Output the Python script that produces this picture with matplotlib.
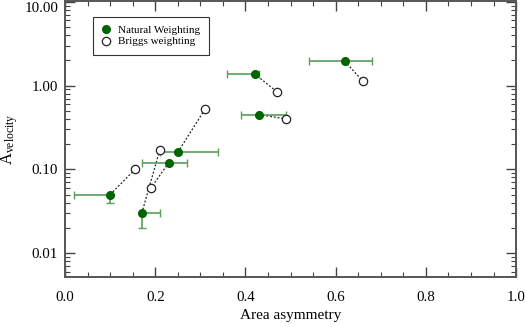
import matplotlib
matplotlib.use("Agg")
import matplotlib.pyplot as plt
from matplotlib.ticker import FixedLocator, LogLocator, NullFormatter, MultipleLocator, FormatStrFormatter
import numpy as np

plt.rcParams['font.family'] = ['Liberation Serif', 'DejaVu Serif']
plt.rcParams['mathtext.fontset'] = 'custom'
plt.rcParams['mathtext.rm'] = 'Liberation Serif'
plt.rcParams['mathtext.it'] = 'Liberation Serif'

# Natural weighting
nat_x = [0.62, 0.42, 0.43, 0.25, 0.23, 0.10, 0.17]
nat_y = [1.95, 1.38, 0.45, 0.16, 0.12, 0.05, 0.03]
nat_xerr_lo = [0.08, 0.06, 0.04, 0.04, 0.06, 0.08, 0.00]
nat_xerr_hi = [0.06, 0.01, 0.06, 0.09, 0.04, 0.00, 0.04]
nat_yerr_lo = [0.0, 0.0, 0.0, 0.0, 0.0, 0.01, 0.01]
nat_yerr_hi = [0.0, 0.0, 0.0, 0.0, 0.0, 0.0, 0.0]

# Briggs weighting (paired with natural points, same order)
brg_x = [0.66, 0.47, 0.49, 0.31, 0.19, 0.155, 0.21]
brg_y = [1.13, 0.84, 0.40, 0.52, 0.06, 0.10, 0.17]

fig = plt.figure(figsize=(5.25, 3.27), dpi=100)
ax = fig.add_axes([0.124, 0.153, 0.859, 0.845])

for xn, yn, xb, yb in zip(nat_x, nat_y, brg_x, brg_y):
    ax.plot([xn, xb], [yn, yb], ls=(0, (1.5, 1.5)), color='#222222', lw=0.9, zorder=2)

ax.errorbar(nat_x, nat_y, xerr=[nat_xerr_lo, nat_xerr_hi],
            yerr=[nat_yerr_lo, nat_yerr_hi], fmt='none',
            ecolor='#5a9e5a', elinewidth=1.2, capsize=3, capthick=1.0, zorder=3)
ax.plot(nat_x, nat_y, 'o', color='#006400', ms=5.5, zorder=5, label='Natural Weighting')
ax.plot(brg_x, brg_y, 'o', mfc='white', mec='#222222', mew=0.9, ms=6, zorder=4,
        label='Briggs weighting')

ax.set_yscale('log')
ax.set_xlim(0.0, 1.0)
ax.set_ylim(0.0052, 10.3)

ax.xaxis.set_major_locator(MultipleLocator(0.2))
ax.xaxis.set_minor_locator(MultipleLocator(0.05))
ax.xaxis.set_major_formatter(FormatStrFormatter('%.1f'))
ax.yaxis.set_major_locator(FixedLocator([0.01, 0.1, 1.0, 10.0]))
ax.yaxis.set_minor_locator(LogLocator(base=10, subs=np.arange(2, 10)))
ax.yaxis.set_minor_formatter(NullFormatter())
ax.yaxis.set_major_formatter(FormatStrFormatter('%.2f'))

ax.tick_params(which='both', direction='in', top=True, right=True, colors='#444444',
               labelcolor='black', labelsize=10.8)
ax.tick_params(which='major', length=7, width=1.0)
ax.tick_params(which='minor', length=3.5, width=0.8)
ax.tick_params(axis='x', pad=10)
ax.tick_params(axis='y', pad=5)
for s in ax.spines.values():
    s.set_color('#555555')
    s.set_linewidth(1.4)

ax.set_xlabel('Area asymmetry', fontsize=11, labelpad=4)
ax.set_ylabel(r'A$_{\mathrm{velocity}}$', fontsize=12)
ax.yaxis.set_label_coords(-0.099, 0.5)

fig.canvas.draw()
for lbl in ax.yaxis.get_majorticklabels():
    if lbl.get_text() == '10.00':
        lbl.set_va('top')

leg = ax.legend(loc='upper left', bbox_to_anchor=(0.062, 0.942), borderaxespad=0,
                frameon=True, fancybox=False, edgecolor='black', fontsize=8.0,
                handlelength=0.8, handletextpad=0.6, borderpad=0.8, labelspacing=0.12)
leg.get_frame().set_linewidth(0.8)

fig.savefig('out.png', dpi=100)
